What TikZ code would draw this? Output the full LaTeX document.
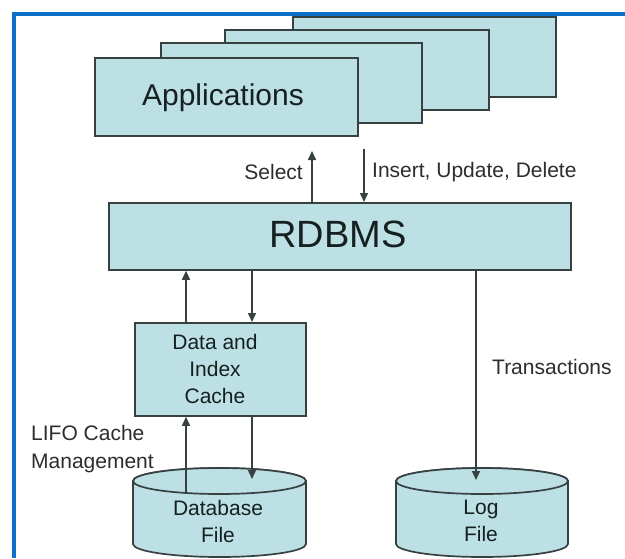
\documentclass[tikz,border=0pt]{standalone}
\usepackage{fontspec}
\setmainfont{Liberation Sans}
\usetikzlibrary{arrows.meta}
\definecolor{boxfill}{RGB}{188,224,228}
\definecolor{boxline}{RGB}{55,65,65}
\definecolor{frameblue}{RGB}{12,112,200}
\definecolor{txt}{RGB}{22,32,32}
\definecolor{lbl}{RGB}{45,45,45}
\tikzset{
  box/.style={draw=boxline, line width=1.8pt, fill=boxfill, inner sep=0pt},
  conn/.style={draw=boxline, line width=1.5pt, -{Triangle[width=8pt,length=9pt]}},
  lab/.style={text=lbl, inner sep=0pt, font=\fontsize{21}{28}\selectfont},
  intext/.style={text=txt, inner sep=0pt, align=center, font=\fontsize{21}{27}\selectfont},
  cyl/.style={draw=boxline, line width=1.7pt, fill=boxfill}
}
\begin{document}
\begin{tikzpicture}[x=1pt,y=-1pt]
\useasboundingbox (0,0) rectangle (625,558);
\fill[white] (0,0) rectangle (625,558);
% blue frame
\fill[frameblue] (12,12) rectangle (625,15.5);
\fill[frameblue] (12,12) rectangle (16,558);

% application stack
\path[box] (293,17) rectangle (556,97);
\path[box] (225,30) rectangle (489,110);
\path[box] (161,43) rectangle (422,123);
\node[box, minimum width=263pt, minimum height=78pt, anchor=north west] (apps) at (94,57) {};
\node[text=txt, font=\fontsize{30}{36}\selectfont, inner sep=0pt] (appstext) at (223,98) {Applications};

% RDBMS
\node[box, minimum width=462pt, minimum height=67pt, anchor=north west] (rdbms) at (108,202) {};
\node[text=txt, font=\fontsize{38}{44}\selectfont, inner sep=0pt] (rdbmstext) at (338,234) {RDBMS};

% cache
\node[box, minimum width=171pt, minimum height=93pt, anchor=north west] (cache) at (134,322) {};
\node[intext] (cachetext) at (215,369) {Data and\\Index\\Cache};

% cylinders
\path[cyl] (133,481) -- (133,544) arc (180:360:86.5pt and 13pt) -- (306,481) arc (0:180:86.5pt and 13pt) -- cycle;
\draw[cyl] (219.5,481) ellipse (86.5pt and 13pt);
\path[cyl] (396,481) -- (396,544) arc (180:360:86pt and 13pt) -- (568,481) arc (0:180:86pt and 13pt) -- cycle;
\draw[cyl] (482,481) ellipse (86pt and 13pt);
\node[intext] (dbfile) at (218,521) {Database\\File};
\node[intext] (logfile) at (481,521) {Log\\File};

% free ends
\coordinate (selend) at (312,151);
\coordinate (insstart) at (364,149);
\coordinate (dbout) at (186,492);
\coordinate (dbin) at (252,479);
\coordinate (login) at (476,480);

% connectors
\draw[conn] (rdbms.north -| selend) -- (selend);
\draw[conn] (insstart) -- (rdbms.north -| insstart);
\draw[conn] (cache.north -| dbout) -- (rdbms.south -| dbout);
\draw[conn] (rdbms.south -| dbin) -- (cache.north -| dbin);
\draw[conn] (dbout) -- (cache.south -| dbout);
\draw[conn] (cache.south -| dbin) -- (dbin);
\draw[conn] (rdbms.south -| login) -- (login);

% labels
\node[lab, anchor=east] (sel) at (303,172) {Select};
\node[lab, anchor=west] (ins) at (372,172) {Insert, Update, Delete};
\node[lab, anchor=west] (trans) at (492,367) {Transactions};
\node[lab, anchor=west, align=left] (lifo) at (31,449) {LIFO Cache\\Management};
\end{tikzpicture}
\end{document}
